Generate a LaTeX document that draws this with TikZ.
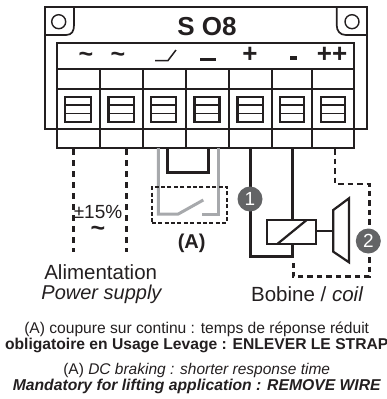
\documentclass[tikz,border=0pt]{standalone}
\usepackage{fontspec}
\setmainfont{Liberation Sans}
\definecolor{ink}{HTML}{231F20}
\definecolor{gr}{HTML}{A7A9AC}
\definecolor{badgegr}{HTML}{636466}
\tikzset{
  frame/.style={draw=ink,line width=1.7pt},
  screw/.style={draw=ink,line width=2.4pt},
  power/.style={draw=ink,line width=3pt,dash pattern=on 6pt off 5pt},
  wire/.style={draw=ink,line width=3.2pt},
  strap/.style={draw=gr,line width=3pt},
  brakedash/.style={draw=ink,line width=2.5pt,dash pattern=on 5.5pt off 4pt},
  badge/.style={circle,fill=badgegr,minimum size=25pt,inner sep=0pt,text=white},
  txt/.style={inner sep=0pt,text=ink,anchor=center},
  coil/.style={draw=ink,line width=2.2pt}
}
\newcommand{\fs}[1]{\fontsize{#1}{#1}\selectfont}
\begin{document}
\begin{tikzpicture}[x=1pt,y=-1pt]
\useasboundingbox (0,0) rectangle (387,399);
% housing
\draw[frame] (44.7,129) -- (44.7,7) -- (366.7,7) -- (366.7,129) -- cycle;
\draw[frame] (44.7,35) -- (66,35) .. controls (72,35) and (74,31) .. (74,25) -- (74,7);
\draw[frame] (336.7,7) -- (336.7,25) .. controls (336.7,31) and (340,35) .. (346,35) -- (366.7,35);
\draw[line width=1.4pt,draw=ink] (58.7,21.7) circle (7);
\draw[line width=1.4pt,draw=ink] (352,21.7) circle (7);
\node[txt,font=\bfseries\fs{26}] (title) at (207,27) {S O8};
% terminal strip
\draw[frame,fill=white] (56.7,43.3) rectangle (354,148);
\draw[frame] (56.7,69.3) -- (354,69.3) (56.7,89.3) -- (354,89.3);
\draw[frame] (44.7,129) -- (366.7,129);
\foreach \x in {100,143.3,185.7,229.3,272.3,312.3}
  \draw[frame] (\x,69.3) -- (\x,148);
\foreach \a/\b in {65/90.7,108.3/134,150.7/176,194.3/219.3,237.3/262.7,280/304,320.7/345}{
  \draw[screw] (\a,96.7) rectangle (\b,121.7);
  \draw[line width=1.4pt,draw=ink] (\a,105) -- (\b,105) (\a,113.3) -- (\b,113.3);
}
% terminal marks
\node[txt,font=\bfseries\fs{25}] (t1) at (86,57) {\char`~};
\node[txt,font=\bfseries\fs{25}] (t2) at (118,57) {\char`~};
\draw[line width=1.5pt,draw=ink] (155,60.5) -- (168,60.5) -- (176,50);
\draw[line width=3.2pt,draw=ink] (200,59.3) -- (216,59.3);
\node[txt,font=\bfseries\fs{26}] (t5) at (250,55) {+};
\draw[line width=3.6pt,draw=ink] (290,58) -- (296.5,58);
\node[txt,font=\bfseries\fs{26}] (t7) at (332,55) {++};
% named connection points
\coordinate (p1) at (73.3,149);
\coordinate (p1e) at (73.3,252);
\coordinate (p2) at (126,149);
\coordinate (p2e) at (126,252);
\coordinate (k1) at (158.3,148);
\coordinate (k2) at (218.3,148);
\coordinate (cp) at (250.7,148);
\coordinate (cm) at (292.3,148);
\coordinate (dd) at (335,149);
% power dashed
\draw[power] (p1) -- (p1e);
\draw[power] (p2) -- (p2e);
% strap
\draw[strap] (k1) -- (158.3,214) -- (178.3,214) -- (203.3,200);
\draw[strap] (k2) -- (218.3,214) -- (201.7,214);
\draw[wire] (167.7,148) -- (167.7,172.3) -- (208.3,172.3) -- (208.3,148);
\node[draw=ink,line width=1.6pt,dash pattern=on 4pt off 2.4pt,minimum width=75pt,minimum height=36pt,inner sep=0pt] (contact) at (189.2,204.7) {};
\node[txt,font=\bfseries\fs{20}] (A) at (191.7,243) {(A)};
% coil wires
\draw[wire] (cp) -- (250.7,256.7) -- (292.3,256.7) -- (cm);
% coil
\node[coil,fill=white,minimum width=48.7pt,minimum height=24pt,inner sep=0pt] (coil) at (291.7,232) {};
\draw[coil] (277.3,244) -- (306.7,220);
% brake
\draw[coil,fill=white] (333.3,210) -- (349,198.3) -- (349,262.3) -- (333.3,251.7) -- cycle;
\coordinate (brake) at (333.3,230.7);
\draw[coil] (coil.east |- brake) -- (brake);
% brake dashed
\draw[brakedash] (dd) -- (335,184) -- (369.3,184) -- (369.3,276.7) -- (293.3,276.7) -- (293.3,263);
% badges
\node[badge,font=\fs{19}] (b1) at (250,199) {1};
\node[badge,font=\fs{19}] (b2) at (368.3,241) {2};
% labels
\node[txt,font=\fs{19}] (tol) at (98,212) {±15\%};
\node[txt,font=\bfseries\fs{25}] (tilde) at (98,231) {\char`~};
\node[txt,font=\fs{20.5}] (al) at (100.7,272) {Alimentation};
\node[txt,font=\itshape\fs{20}] (ps) at (101.5,294) {Power supply};
\node[txt,font=\fs{20.5}] (bo) at (307,294) {Bobine / \itshape coil};
% footer
\node[txt,font=\fs{15.6}] (f1) at (196.7,329) {(A) coupure sur continu : temps de réponse réduit};
\node[txt,font=\bfseries\fs{15.65}] (f2) at (196.7,345) {obligatoire en Usage Levage : ENLEVER LE STRAP};
\node[txt,font=\fs{15.5}] (f3) at (196.7,370) {(A) \itshape DC braking : shorter response time};
\node[txt,font=\bfseries\itshape\fs{15.7}] (f4) at (196.7,386) {Mandatory for lifting application : REMOVE WIRE};
\end{tikzpicture}
\end{document}
